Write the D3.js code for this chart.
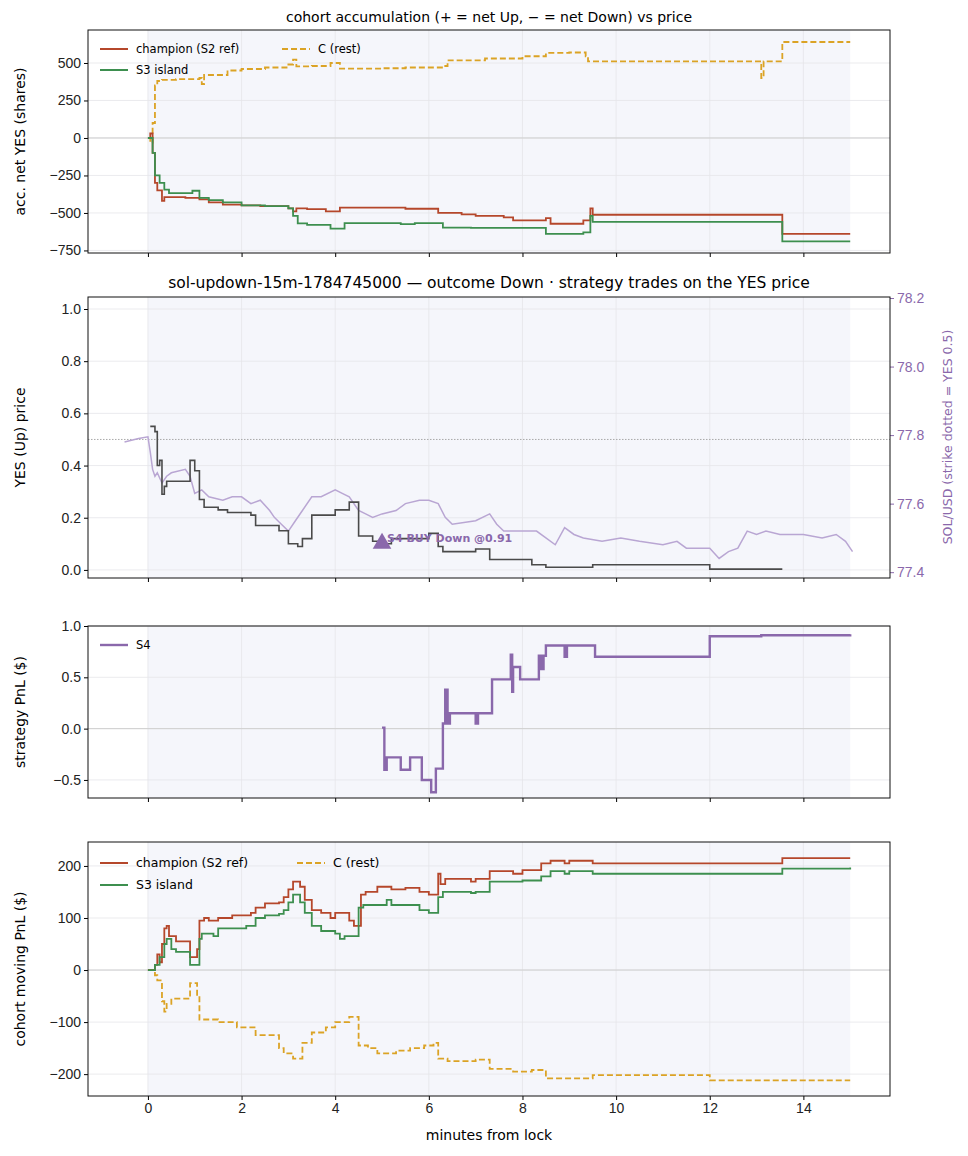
<!DOCTYPE html>
<html><head><meta charset="utf-8">
<script src="https://cdn.jsdelivr.net/npm/d3@7"></script>
<style>body{margin:0;background:#fff}svg{font-family:"DejaVu Sans",sans-serif}</style>
</head><body><svg></svg>
<script>
// step series as [minutes, value]
var accChampion = [[0,0],[0.05,30],[0.1,-100],[0.15,-300],[0.2,-350],[0.3,-420],[0.35,-395],[0.8,-400],[1.1,-410],[1.3,-430],[1.6,-445],[2.0,-450],[2.4,-455],[3.0,-470],[3.1,-490],[3.17,-470],[3.4,-475],[3.8,-490],[4.1,-464],[5.5,-472],[6.2,-500],[6.7,-510],[7.0,-520],[7.6,-530],[7.8,-550],[8.5,-535],[8.6,-572],[9.3,-550],[9.45,-470],[9.5,-512],[13.55,-640],[15,-640]];
var accS3 = [[0,0],[0.1,-100],[0.15,-250],[0.25,-300],[0.35,-345],[0.45,-368],[0.6,-368],[0.95,-352],[1.1,-400],[1.3,-415],[1.6,-430],[2.0,-450],[2.5,-455],[3.0,-470],[3.1,-520],[3.2,-570],[3.4,-580],[3.9,-605],[4.2,-568],[5.4,-575],[5.7,-568],[6.3,-598],[6.9,-600],[7.5,-600],[8.5,-640],[9.3,-630],[9.45,-520],[9.5,-560],[13.55,-690],[15,-690]];
var accRest = [[0,0],[0.05,-30],[0.1,100],[0.15,350],[0.2,380],[0.3,388],[0.6,392],[1.1,400],[1.15,360],[1.2,420],[1.7,450],[2.0,460],[2.5,470],[3.0,490],[3.1,522],[3.17,478],[3.5,480],[3.9,500],[4.1,462],[5.0,465],[5.5,470],[6.3,480],[6.4,518],[7.2,530],[8.0,545],[8.5,567],[9.0,570],[9.35,545],[9.4,511],[13.05,511],[13.1,400],[13.15,511],[13.55,640],[15,640]];

var yesPrice = [[0.05,0.55],[0.15,0.53],[0.2,0.40],[0.25,0.42],[0.3,0.29],[0.35,0.32],[0.4,0.34],[0.9,0.42],[1.0,0.38],[1.1,0.27],[1.2,0.24],[1.5,0.23],[1.7,0.22],[2.2,0.21],[2.3,0.17],[2.8,0.15],[3.0,0.10],[3.2,0.09],[3.3,0.12],[3.5,0.21],[4.0,0.23],[4.3,0.26],[4.5,0.13],[4.8,0.11],[5.0,0.10],[5.2,0.12],[6.0,0.14],[6.2,0.09],[6.3,0.07],[7.0,0.08],[7.3,0.04],[8.0,0.04],[8.2,0.02],[8.5,0.01],[9.5,0.02],[12.0,0.003],[13.55,0.003]];
var solPrice = [[-0.5,77.78],[-0.2,77.79],[0,77.795],[0.05,77.75],[0.1,77.70],[0.15,77.68],[0.2,77.69],[0.3,77.66],[0.4,77.68],[0.5,77.69],[0.8,77.70],[0.9,77.68],[1.0,77.63],[1.15,77.64],[1.3,77.62],[1.6,77.61],[1.8,77.62],[2.0,77.62],[2.2,77.60],[2.4,77.61],[2.6,77.58],[2.7,77.56],[2.85,77.54],[3.0,77.52],[3.15,77.55],[3.3,77.58],[3.5,77.62],[3.7,77.62],[4.0,77.64],[4.15,77.63],[4.3,77.62],[4.5,77.58],[4.65,77.57],[4.8,77.56],[5.0,77.57],[5.3,77.58],[5.5,77.60],[5.8,77.61],[6.0,77.61],[6.2,77.60],[6.35,77.56],[6.5,77.54],[7.0,77.55],[7.3,77.57],[7.45,77.54],[7.6,77.52],[8.0,77.52],[8.3,77.52],[8.5,77.50],[8.7,77.48],[8.9,77.53],[9.1,77.51],[9.3,77.50],[9.7,77.49],[10.1,77.50],[10.5,77.49],[11,77.48],[11.3,77.49],[11.5,77.47],[12,77.47],[12.2,77.44],[12.4,77.46],[12.6,77.47],[12.8,77.52],[13.0,77.51],[13.2,77.52],[13.5,77.51],[14,77.51],[14.4,77.50],[14.7,77.51],[14.9,77.49],[15.05,77.46]];
var trade = {t:5.0, price:0.09, label:"S4 BUY Down @0.91"};

var pnlS4 = [[5.0,0.01],[5.05,-0.40],[5.1,-0.28],[5.4,-0.40],[5.6,-0.28],[5.85,-0.50],[6.05,-0.62],[6.15,-0.39],[6.3,0.05],[6.35,0.38],[6.4,0.05],[6.45,0.15],[7.0,0.05],[7.05,0.15],[7.35,0.48],[7.75,0.72],[7.78,0.36],[7.8,0.60],[7.95,0.48],[8.35,0.71],[8.4,0.58],[8.45,0.71],[8.5,0.81],[8.9,0.70],[8.95,0.81],[9.55,0.70],[12.0,0.90],[13.1,0.91],[15,0.92]];

var pnlChampion = [[0,0],[0.15,10],[0.2,30],[0.25,15],[0.3,50],[0.35,80],[0.4,85],[0.45,65],[0.6,55],[0.9,25],[1.05,40],[1.1,95],[1.2,100],[1.3,95],[1.5,100],[1.8,105],[2.2,110],[2.3,120],[2.5,128],[2.8,130],[2.9,140],[3.0,155],[3.1,170],[3.25,160],[3.35,135],[3.5,115],[3.7,110],[3.9,100],[4.0,110],[4.3,95],[4.4,85],[4.55,145],[4.65,150],[4.9,160],[5.2,155],[5.5,158],[5.8,150],[6.0,145],[6.2,185],[6.25,165],[6.35,175],[6.9,170],[7.0,175],[7.3,190],[7.8,185],[8.0,192],[8.4,205],[8.6,210],[8.9,205],[9.0,210],[9.5,205],[13.55,215],[15,215]];
var pnlS3 = [[0,0],[0.15,10],[0.25,25],[0.35,50],[0.4,60],[0.5,40],[0.6,35],[0.9,10],[1.1,60],[1.15,70],[1.4,65],[1.5,80],[1.8,80],[2.1,85],[2.3,100],[2.5,105],[2.8,108],[2.9,115],[3.0,130],[3.1,145],[3.25,130],[3.35,110],[3.5,85],[3.7,75],[4.0,70],[4.1,60],[4.2,65],[4.5,120],[4.6,125],[5.1,135],[5.2,125],[5.5,125],[5.8,115],[6.0,110],[6.2,140],[6.3,150],[6.9,148],[7.0,150],[7.3,170],[8.0,172],[8.4,180],[8.6,190],[8.9,185],[9.0,190],[9.5,185],[13.55,195],[15,197]];
var pnlRest = [[0,0],[0.15,-10],[0.2,-20],[0.3,-60],[0.35,-80],[0.4,-65],[0.5,-55],[0.9,-25],[1.05,-50],[1.1,-95],[1.3,-95],[1.5,-100],[1.9,-110],[2.3,-125],[2.8,-150],[2.9,-160],[3.1,-170],[3.3,-140],[3.5,-120],[3.8,-110],[4.0,-100],[4.3,-90],[4.5,-145],[4.7,-150],[4.9,-160],[5.3,-155],[5.6,-150],[5.9,-145],[6.1,-140],[6.2,-170],[6.4,-175],[7.0,-172],[7.3,-190],[7.8,-195],[8.2,-192],[8.5,-208],[9.5,-202],[12.0,-212],[15,-212]];

var xTicks = [0,2,4,6,8,10,12,14];
var C = {champ:"#b5472b", s3:"#3d8f4f", rest:"#dba325", s4:"#8a68ab", yes:"#4a4a4a", sol:"#b9a6d3"};

var svg = d3.select("svg").attr("width", 968).attr("height", 1156);
var L = 88, R = 890;
var x = d3.scaleLinear().domain([-1.28, 15.85]).range([L, R]);

function panel(top, bottom, dom, ticks, fmt, ylabel) {
  var g = svg.append("g");
  var y = d3.scaleLinear().domain(dom).range([bottom, top]);
  g.append("rect").attr("x", x(0)).attr("y", top).attr("width", x(15) - x(0)).attr("height", bottom - top).attr("fill", "#f5f6fb");
  g.selectAll(".gx").data(xTicks).join("line").attr("x1", d => x(d)).attr("x2", d => x(d)).attr("y1", top).attr("y2", bottom).attr("stroke", "#e6e6ea").attr("stroke-width", 0.8);
  g.selectAll(".gy").data(ticks).join("line").attr("x1", L).attr("x2", R).attr("y1", d => y(d)).attr("y2", d => y(d)).attr("stroke", "#e6e6ea").attr("stroke-width", 0.8);
  var ya = g.append("g").attr("transform", "translate(" + L + ",0)").call(d3.axisLeft(y).tickValues(ticks).tickFormat(fmt).tickSizeOuter(0).tickSize(4));
  ya.select(".domain").remove();
  ya.selectAll("text").attr("font-size", 14).attr("fill", "#222");
  var xa = g.append("g").attr("transform", "translate(0," + bottom + ")").call(d3.axisBottom(x).tickValues(xTicks).tickSize(4).tickFormat(""));
  xa.select(".domain").remove();
  g.append("text").attr("transform", "translate(" + 25 + "," + ((top + bottom) / 2) + ") rotate(-90)").attr("text-anchor", "middle").attr("font-size", 14).text(ylabel);
  return {g: g, y: y, top: top, bottom: bottom, xa: xa};
}
function frame(p) {
  p.g.append("rect").attr("x", L).attr("y", p.top).attr("width", R - L).attr("height", p.bottom - p.top).attr("fill", "none").attr("stroke", "#111").attr("stroke-width", 1);
}
function zero(p) {
  p.g.append("line").attr("x1", L).attr("x2", R).attr("y1", p.y(0)).attr("y2", p.y(0)).attr("stroke", "#cfcfcf").attr("stroke-width", 1);
}
function step(p, data, color, dash, w, curve) {
  var line = d3.line().x(d => x(d[0])).y(d => p.y(d[1])).curve(curve || d3.curveStepAfter);
  p.g.append("path").datum(data).attr("d", line).attr("fill", "none").attr("stroke", color).attr("stroke-width", w || 1.8).attr("stroke-dasharray", dash || null);
}
function legend(p, items, x0, y0, colW, rowH, fs) {
  items.forEach(function(it, i) {
    var col = Math.floor(i / 2), row = i % 2;
    if (it.single) { col = 0; row = 0; }
    var lx = x0 + col * colW, ly = y0 + row * rowH;
    p.g.append("line").attr("x1", lx).attr("x2", lx + 28).attr("y1", ly).attr("y2", ly).attr("stroke", it.c).attr("stroke-width", it.w || 2).attr("stroke-dasharray", it.dash || null);
    p.g.append("text").attr("x", lx + 36).attr("y", ly + 4).attr("font-size", fs).text(it.t);
  });
}

// panel 1
var p1 = panel(30, 253, [-767, 720], [-750,-500,-250,0,250,500], d => d < 0 ? "\u2212" + Math.abs(d) : d, "acc. net YES (shares)");
zero(p1);
step(p1, accRest, C.rest, "6,3");
step(p1, accChampion, C.champ);
step(p1, accS3, C.s3);
frame(p1);
legend(p1, [{t:"champion (S2 ref)", c:C.champ}, {t:"S3 island", c:C.s3}, {t:"C (rest)", c:C.rest, dash:"6,3"}], 100, 49, 182, 21, 11.5);
svg.append("text").attr("x", (L + R) / 2).attr("y", 22).attr("text-anchor", "middle").attr("font-size", 14).text("cohort accumulation (+ = net Up, \u2212 = net Down) vs price");

// panel 2
var p2 = panel(297, 578, [-0.031, 1.046], [0,0.2,0.4,0.6,0.8,1.0], d3.format(".1f"), "YES (Up) price");
var y2r = d3.scaleLinear().domain([77.383, 78.203]).range([578, 297]);
p2.g.append("line").attr("x1", L).attr("x2", R).attr("y1", p2.y(0.5)).attr("y2", p2.y(0.5)).attr("stroke", "#aaa").attr("stroke-width", 1).attr("stroke-dasharray", "1.5,1.5");
p2.g.append("path").datum(solPrice).attr("d", d3.line().x(d => x(d[0])).y(d => y2r(d[1]))).attr("fill", "none").attr("stroke", C.sol).attr("stroke-width", 1.5);
step(p2, yesPrice, C.yes, null, 1.6);
var ra = p2.g.append("g").attr("transform", "translate(" + R + ",0)").call(d3.axisRight(y2r).tickValues([77.4,77.6,77.8,78.0,78.2]).tickFormat(d3.format(".1f")).tickSize(4));
ra.select(".domain").remove();
ra.selectAll("line").attr("stroke", C.s4);
ra.selectAll("text").attr("font-size", 14).attr("fill", C.s4);
p2.g.append("text").attr("transform", "translate(952,437) rotate(-90)").attr("text-anchor", "middle").attr("font-size", 12.5).attr("fill", C.s4).text("SOL/USD (strike dotted = YES 0.5)");
p2.g.append("path").attr("d", d3.symbol(d3.symbolTriangle, 150)()).attr("transform", "translate(" + x(trade.t) + "," + (p2.y(trade.price) - 3) + ")").attr("fill", C.s4);
p2.g.append("text").attr("x", x(trade.t) + 5).attr("y", p2.y(trade.price) - 4).attr("font-size", 11).attr("font-weight", "bold").attr("fill", C.s4).text(trade.label);
frame(p2);
svg.append("text").attr("x", (L + R) / 2).attr("y", 288).attr("text-anchor", "middle").attr("font-size", 15.5).text("sol-updown-15m-1784745000 \u2014 outcome Down \u00b7 strategy trades on the YES price");

// panel 3
var p3 = panel(626, 798, [-0.676, 1.0], [-0.5,0,0.5,1.0], d => d < 0 ? "\u2212" + d3.format(".1f")(Math.abs(d)) : d3.format(".1f")(d), "strategy PnL ($)");
zero(p3);
step(p3, pnlS4, C.s4, null, 2.4);
frame(p3);
legend(p3, [{t:"S4", c:C.s4, w:2.4, single:true}], 100, 645, 0, 0, 11.5);

// panel 4
var p4 = panel(842, 1096, [-242, 246], [-200,-100,0,100,200], d => d < 0 ? "\u2212" + Math.abs(d) : d, "cohort moving PnL ($)");
zero(p4);
step(p4, pnlRest, C.rest, "6,3");
step(p4, pnlChampion, C.champ);
step(p4, pnlS3, C.s3);
frame(p4);
legend(p4, [{t:"champion (S2 ref)", c:C.champ}, {t:"S3 island", c:C.s3}, {t:"C (rest)", c:C.rest, dash:"6,3"}], 100, 863, 197, 22, 12.5);
p4.xa.call(d3.axisBottom(x).tickValues(xTicks).tickSize(4));
p4.xa.select(".domain").remove();
p4.xa.selectAll("text").attr("font-size", 14).attr("fill", "#222");
svg.append("text").attr("x", (L + R) / 2).attr("y", 1140).attr("text-anchor", "middle").attr("font-size", 14).text("minutes from lock");
</script></body></html>
